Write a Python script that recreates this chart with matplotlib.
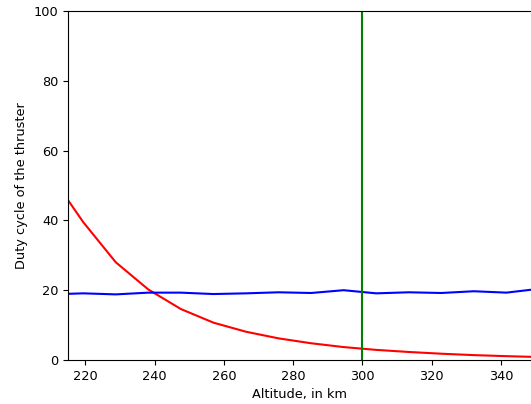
import matplotlib
matplotlib.use("Agg")
import matplotlib.pyplot as plt

# altitude grid (km) and duty cycles (%)
altitude = [210.0, 219.4, 228.8, 238.2, 247.6, 257.0, 266.4, 275.8, 285.2,
            294.6, 304.0, 313.4, 322.8, 332.2, 341.6, 351.0, 360.4]
duty_drag = [53.0, 39.5, 28.0, 20.2, 14.6, 10.7, 8.1, 6.2, 4.8,
             3.7, 2.9, 2.3, 1.8, 1.4, 1.1, 0.85, 0.7]
duty_other = [18.8, 19.1, 18.8, 19.3, 19.3, 18.9, 19.1, 19.4, 19.2,
              20.0, 19.1, 19.4, 19.2, 19.7, 19.3, 20.4, 20.0]
h_mark = 300

plt.rcParams['font.size'] = 9.3

fig = plt.figure(figsize=(5.31, 4.04), dpi=100)
# the axes run just past the right edge of the picture
ax = fig.add_axes([68 / 531, 44 / 404, 464 / 531, 349 / 404])

ax.plot(altitude, duty_drag, color='red')
ax.plot(altitude, duty_other, color='blue')
ax.axvline(h_mark, color='green')

ax.set_xlim(215, 349)
ax.set_ylim(0, 100)
ax.set_xticks([220, 240, 260, 280, 300, 320, 340])
ax.set_xlabel('Altitude, in km')
ax.set_ylabel('Duty cycle of the thruster')

fig.savefig('out.png', dpi=100)
